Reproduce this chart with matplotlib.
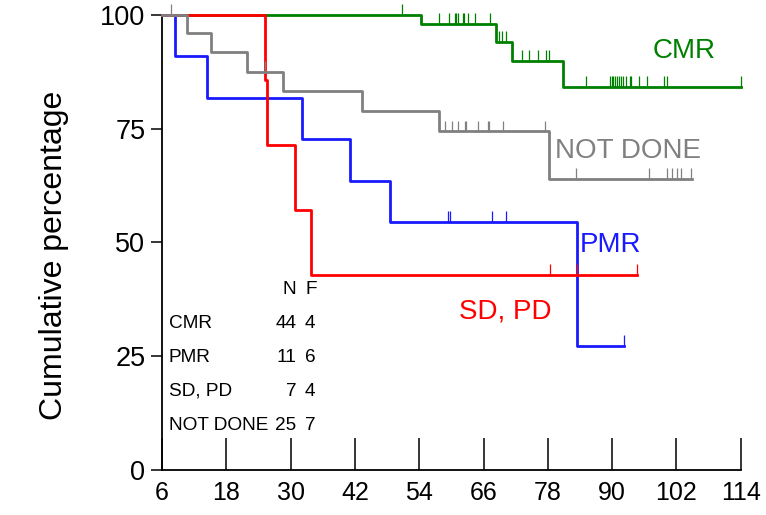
import matplotlib
matplotlib.use('Agg')
import matplotlib.pyplot as plt
import numpy as np

plt.rcParams['font.family'] = ['Liberation Sans', 'DejaVu Sans']

# step curves (time in months, cumulative percentage)
cmr_t = [6, 54.4, 68.3, 71.3, 80.9, 114]
cmr_s = [100, 98.0, 94.1, 89.9, 84.2, 84.2]
cmr_cens = [50.8, 57.7, 59.6, 60.6, 60.8, 61.2, 62.2, 62.4, 63.1, 64.4, 67.3,
            68.8, 69.4, 70.2, 73.2, 74.4, 76.1, 77.7, 78.3,
            85.1, 89.6, 89.9, 90.2, 90.5, 91.0, 91.3, 91.6, 92.1, 92.6,
            93.4, 93.5, 95.1, 96.6, 99.7, 100.3, 114.0]

pmr_t = [6, 8.5, 14.4, 32.1, 41.1, 48.5, 83.4, 92.3]
pmr_s = [100, 90.9, 81.8, 72.7, 63.6, 54.5, 27.3, 27.3]
pmr_cens = [59.4, 59.7, 67.5, 70.2, 92.3]

sd_t = [6, 25.3, 25.6, 30.9, 33.8, 94.7]
sd_s = [100, 85.7, 71.4, 57.1, 42.9, 42.9]
sd_cens = [78.4, 83.4, 94.7]

nd_t = [6, 10.6, 15.1, 21.8, 28.6, 43.3, 57.7, 78.3, 105]
nd_s = [100, 96.0, 91.8, 87.5, 83.3, 78.9, 74.4, 63.9, 63.9]
nd_cens = [7.6, 25.3, 58.8, 60.1, 61.3, 62.5, 62.8, 65.0, 66.8, 67.1, 69.6,
           77.4, 83.2, 96.9, 100.2, 101.1, 102.1, 102.9, 104.8]

groups = ['CMR', 'PMR', 'SD, PD', 'NOT DONE']
n_vals = [44, 11, 7, 25]
f_vals = [4, 6, 4, 7]

x_ticks = [6, 18, 30, 42, 54, 66, 78, 90, 102, 114]
y_ticks = [0, 25, 50, 75, 100]


def level_at(t, times, surv):
    idx = np.searchsorted(times, t, side='right') - 1
    return np.asarray(surv)[idx]


fig = plt.figure(figsize=(7.66, 5.15), dpi=100)
ax = fig.add_axes([0.2115, 0.0874, 0.7555, 0.8835])

curves = [
    (cmr_t, cmr_s, cmr_cens, 'green', 1),
    (pmr_t, pmr_s, pmr_cens, '#1a1aff', 2),
    (sd_t, sd_s, sd_cens, '#ff0000', 3),
    (nd_t, nd_s, nd_cens, 'gray', 4),
]
for t, s, cens, col, z in curves:
    ax.step(t, s, where='post', color=col, lw=2.0, zorder=z, clip_on=False)
    yc = level_at(cens, t, s)
    ax.vlines(cens, yc, yc + 2.4, color=col, lw=0.9, zorder=z, clip_on=False)

# curve labels
ax.text(97.5, 92, 'CMR', color='green', fontsize=20, va='center')
ax.text(79.3, 70, 'NOT DONE', color='gray', fontsize=20, va='center')
ax.text(84.0, 49.5, 'PMR', color='#1a1aff', fontsize=20, va='center')
ax.text(61.4, 34.8, 'SD, PD', color='#ff0000', fontsize=20, va='center')

# N / F table
fs = 13.7
ax.text(31.1, 39.6, 'N', fontsize=fs, ha='right', va='center')
ax.text(32.7, 39.6, 'F', fontsize=fs, ha='left', va='center')
for i, g in enumerate(groups):
    yy = 32.3 - i * 7.5
    ax.text(7.3, yy, g, fontsize=fs, ha='left', va='center')
    ax.text(31.1, yy, str(n_vals[i]), fontsize=fs, ha='right', va='center')
    ax.text(32.7, yy, str(f_vals[i]), fontsize=fs, ha='left', va='center')

ax.set_xlim(6, 114)
ax.set_ylim(0, 100)
ax.set_xticks(x_ticks)
ax.set_yticks(y_ticks)
ax.spines['top'].set_visible(False)
ax.spines['right'].set_visible(False)
ax.spines['left'].set_linewidth(1.3)
ax.spines['bottom'].set_linewidth(1.3)
ax.tick_params(axis='x', direction='in', length=23, width=1.1,
               labelsize=18, pad=8)
ax.tick_params(axis='y', direction='out', length=8, width=1.1,
               labelsize=19.5, pad=4)
ax.set_ylabel('Cumulative percentage', fontsize=23)
ax.yaxis.set_label_coords(-0.1606, 0.4725)

plt.savefig('out.png', dpi=100)
